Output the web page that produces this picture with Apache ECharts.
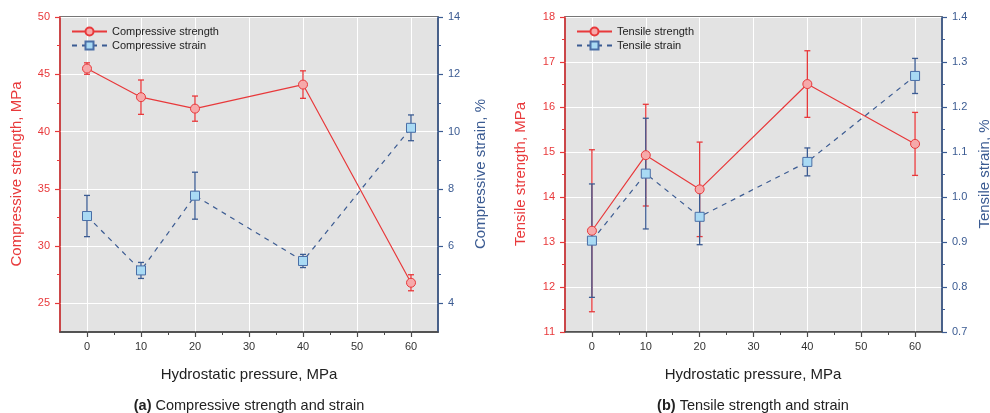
<!DOCTYPE html>
<html>
<head>
<meta charset="utf-8">
<script src="https://cdn.jsdelivr.net/npm/echarts@6/dist/echarts.min.js"></script>
<style>
  html, body { margin: 0; padding: 0; background: #fff; }
  #chart { width: 990px; height: 413px; }
</style>
</head>
<body>
<div id="chart"></div>
<script>
// Hydrostatic pressure levels (MPa)
const pressure = [0, 10, 20, 40, 60];

// (a) compressive tests
const compStrength = [45.5, 43.0, 42.0, 44.1, 26.8];
const compStrengthErr = [0.5, 1.5, 1.1, 1.2, 0.7];
const compStrain = [7.05, 5.15, 7.76, 5.48, 10.13];
const compStrainErr = [0.72, 0.28, 0.82, 0.23, 0.45];

// (b) tensile tests
const tenStrength = [13.25, 14.93, 14.17, 16.51, 15.18];
const tenStrengthErr = [1.8, 1.13, 1.05, 0.74, 0.70];
const tenStrain = [0.903, 1.052, 0.956, 1.078, 1.269];
const tenStrainErr = [0.126, 0.123, 0.062, 0.031, 0.039];

// tick labels
const pressureTicks = [0, 10, 20, 30, 40, 50, 60];
const compStrengthTicks = [25, 30, 35, 40, 45, 50];
const compStrainTicks = [4, 6, 8, 10, 12, 14];
const tenStrengthTicks = [11, 12, 13, 14, 15, 16, 17, 18];
const tenStrainTicks = [0.7, 0.8, 0.9, 1.0, 1.1, 1.2, 1.3, 1.4];

const FONT = 'Liberation Sans, Arial, sans-serif';
const RED = '#e8393b';
const RED_FILL = '#f6a9aa';
const BLUE = '#3b5b92';
const BLUE_FILL = '#a9daf4';
const BLUE_EDGE = '#4a6ea6';
const GRAY = '#4a4a4a';

const pairs = (xs, ys) => xs.map((x, i) => [x, ys[i]]);
const bars = (xs, ys, es) => xs.map((x, i) => [x, ys[i] - es[i], ys[i] + es[i]]);

function xAxisFor(gridIndex) {
  return {
    type: 'value', gridIndex, min: -5, max: 65, splitNumber: 7,
    axisLine: { show: true, lineStyle: { color: GRAY, width: 1.6 } },
    axisTick: { show: true, length: 5, customValues: pressureTicks, lineStyle: { color: GRAY, width: 1.2 } },
    minorTick: { show: true, splitNumber: 2, length: 3, lineStyle: { color: GRAY, width: 1 } },
    axisLabel: { customValues: pressureTicks, margin: 9, color: '#333', fontSize: 11, fontFamily: FONT },
    splitLine: { show: true, lineStyle: { color: '#ffffff', width: 1 } }
  };
}

function yAxisFor(gridIndex, side, min, max, splitNumber, ticks, color, grid, fmt) {
  return {
    type: 'value', gridIndex, position: side, min, max, splitNumber,
    axisLine: { show: true, onZero: false, lineStyle: { color, width: 1.5 } },
    axisTick: { show: true, length: 5, customValues: ticks, lineStyle: { color, width: 1.2 } },
    minorTick: { show: true, splitNumber: 2, length: 3, lineStyle: { color, width: 1 } },
    axisLabel: { customValues: ticks, margin: 10, color, fontSize: 11, fontFamily: FONT, formatter: fmt },
    splitLine: { show: grid, lineStyle: { color: '#ffffff', width: 1 } }
  };
}

function errorBar(color) {
  return function (params, api) {
    const x = api.value(0);
    const top = api.coord([x, api.value(2)]);
    const bot = api.coord([x, api.value(1)]);
    const hw = 3;
    const style = { stroke: color, lineWidth: 1.3 };
    return {
      type: 'group',
      children: [
        { type: 'line', shape: { x1: top[0], y1: top[1], x2: bot[0], y2: bot[1] }, style },
        { type: 'line', shape: { x1: top[0] - hw, y1: top[1], x2: top[0] + hw, y2: top[1] }, style },
        { type: 'line', shape: { x1: bot[0] - hw, y1: bot[1], x2: bot[0] + hw, y2: bot[1] }, style }
      ]
    };
  };
}

function errSeries(name, xi, yi, data, color) {
  return {
    name, type: 'custom', xAxisIndex: xi, yAxisIndex: yi, data,
    encode: { x: 0, y: [1, 2] }, renderItem: errorBar(color), z: 2, silent: true
  };
}

function strengthSeries(name, xi, yi, data) {
  return {
    name, type: 'line', xAxisIndex: xi, yAxisIndex: yi, data,
    symbol: 'circle', symbolSize: 9, z: 4,
    lineStyle: { color: RED, width: 1.2 },
    itemStyle: { color: RED_FILL, borderColor: RED, borderWidth: 1 }
  };
}

function strainSeries(name, xi, yi, data) {
  return {
    name, type: 'line', xAxisIndex: xi, yAxisIndex: yi, data,
    symbol: 'rect', symbolSize: 9, z: 5,
    lineStyle: { color: BLUE, width: 1.2, type: [5, 5] },
    itemStyle: { color: BLUE_FILL, borderColor: BLUE_EDGE, borderWidth: 1 }
  };
}

function legendFor(left, names) {
  return {
    orient: 'vertical', left, top: 21, itemWidth: 35, itemHeight: 10, itemGap: 3,
    padding: 5, data: names,
    textStyle: { color: '#222', fontSize: 11, fontFamily: FONT }
  };
}

function vText(x, y, text, color) {
  return {
    type: 'text', x, y, rotation: Math.PI / 2,
    style: { text, fill: color, font: '15px ' + FONT, textAlign: 'center', textVerticalAlign: 'middle' }
  };
}

function hText(x, y, text) {
  return {
    type: 'text', x, y,
    style: { text, fill: '#222', font: '15px ' + FONT, textAlign: 'center', textVerticalAlign: 'middle' }
  };
}

function caption(x, y, tag, text) {
  return {
    type: 'text', x, y,
    style: {
      text: '{b|' + tag + '} ' + text,
      fill: '#222', font: '14.5px ' + FONT, textAlign: 'center', textVerticalAlign: 'middle',
      rich: { b: { fontWeight: 'bold', fontSize: 14.5, fontFamily: FONT, fill: '#222' } }
    }
  };
}

const gridStyle = {
  show: true, backgroundColor: '#e3e3e3', borderColor: GRAY, borderWidth: 1.5, containLabel: false
};

const option = {
  animation: false,
  backgroundColor: '#ffffff',
  textStyle: { fontFamily: FONT },
  grid: [
    Object.assign({ left: 60, top: 17, width: 378, height: 315 }, gridStyle),
    Object.assign({ left: 565, top: 17, width: 377, height: 315 }, gridStyle)
  ],
  xAxis: [xAxisFor(0), xAxisFor(1)],
  yAxis: [
    yAxisFor(0, 'left', 22.5, 50, 5, compStrengthTicks, RED, true),
    yAxisFor(0, 'right', 3, 14, 5, compStrainTicks, BLUE, false),
    yAxisFor(1, 'left', 11, 18, 7, tenStrengthTicks, RED, true),
    yAxisFor(1, 'right', 0.7, 1.4, 7, tenStrainTicks, BLUE, false, v => v.toFixed(1))
  ],
  legend: [
    legendFor(66, ['Compressive strength', 'Compressive strain']),
    legendFor(571, ['Tensile strength', 'Tensile strain'])
  ],
  series: [
    errSeries('Compressive strength error', 0, 0, bars(pressure, compStrength, compStrengthErr), RED),
    errSeries('Compressive strain error', 0, 1, bars(pressure, compStrain, compStrainErr), BLUE),
    strengthSeries('Compressive strength', 0, 0, pairs(pressure, compStrength)),
    strainSeries('Compressive strain', 0, 1, pairs(pressure, compStrain)),
    errSeries('Tensile strength error', 1, 2, bars(pressure, tenStrength, tenStrengthErr), RED),
    errSeries('Tensile strain error', 1, 3, bars(pressure, tenStrain, tenStrainErr), BLUE),
    strengthSeries('Tensile strength', 1, 2, pairs(pressure, tenStrength)),
    strainSeries('Tensile strain', 1, 3, pairs(pressure, tenStrain))
  ],
  graphic: [
    vText(17, 174, 'Compressive strength, MPa', RED),
    vText(481, 174, 'Compressive strain, %', BLUE),
    vText(521, 174, 'Tensile strength, MPa', RED),
    vText(985, 174, 'Tensile strain, %', BLUE),
    hText(249, 375, 'Hydrostatic pressure, MPa'),
    hText(753, 375, 'Hydrostatic pressure, MPa'),
    caption(249, 406, '(a)', 'Compressive strength and strain'),
    caption(753, 406, '(b)', 'Tensile strength and strain')
  ]
};

const chart = echarts.init(document.getElementById('chart'), null, { renderer: 'canvas' });
chart.setOption(option);
</script>
</body>
</html>
